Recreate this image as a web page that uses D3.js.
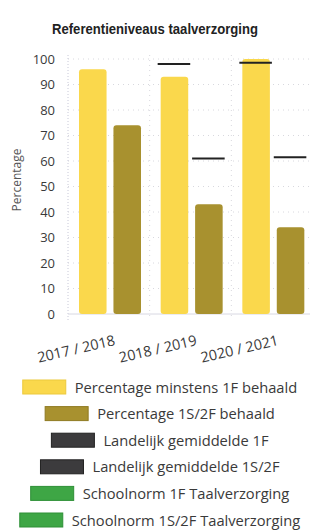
<!DOCTYPE html>
<html>
<head>
<meta charset="utf-8">
<script src="https://cdn.jsdelivr.net/npm/d3@7"></script>
<style>
  body { margin: 0; background: #fff; }
  text { font-family: "Open Sans", sans-serif; fill: #3a3a3a; }
</style>
</head>
<body>
<div id="chart"></div>
<script>
const width = 310;
const height = 530;

const years = ["2017 / 2018", "2018 / 2019", "2020 / 2021"];
const pct1F = [96, 93, 100];
const pct1S2F = [74, 43, 34];
const landelijk1F = [null, 98, 98.5];
const landelijk1S2F = [null, 61, 61.5];
const schoolnorm1F = [null, null, null];
const schoolnorm1S2F = [null, null, null];
const yTicks = [0, 10, 20, 30, 40, 50, 60, 70, 80, 90, 100];

const legendItems = [
    { label: "Percentage minstens 1F behaald", color: "#fad84c", stroke: "#ecc93d" },
    { label: "Percentage 1S/2F behaald", color: "#a8912f", stroke: "#8f7a22" },
    { label: "Landelijk gemiddelde 1F", color: "#3c3b3d", stroke: "#222" },
    { label: "Landelijk gemiddelde 1S/2F", color: "#3c3b3d", stroke: "#222" },
    { label: "Schoolnorm 1F Taalverzorging", color: "#3ea645", stroke: "#2e8f36" },
    { label: "Schoolnorm 1S/2F Taalverzorging", color: "#3ea645", stroke: "#2e8f36" }
];

const series = ["1F", "1S2F"];

const svg = d3.select("#chart")
    .append("svg")
    .attr("width", width)
    .attr("height", height);

const x = d3.scaleBand()
    .domain(years)
    .range([68, 313]);

const x1 = d3.scaleBand()
    .domain(series)
    .range([11, 73])
    .paddingInner(0.2);

const y = d3.scaleLinear()
    .domain([0, 100])
    .range([314, 59]);

// title
svg.append("text")
    .attr("x", 155)
    .attr("y", 34)
    .attr("text-anchor", "middle")
    .attr("font-size", "15.5px")
    .attr("font-weight", "bold")
    .attr("textLength", 206)
    .attr("lengthAdjust", "spacingAndGlyphs")
    .style("font-family", "'Liberation Sans', sans-serif")
    .style("fill", "#222")
    .text("Referentieniveaus taalverzorging");

// gridlines
svg.append("g")
    .selectAll("line")
    .data(yTicks.slice(1))
    .enter()
    .append("line")
    .attr("x1", 68)
    .attr("x2", 313)
    .attr("y1", d => y(d))
    .attr("y2", d => y(d))
    .style("stroke", "#d8d8de")
    .style("stroke-dasharray", "1,4");

svg.append("g")
    .selectAll("line")
    .data(years.slice(1))
    .enter()
    .append("line")
    .attr("x1", d => x(d))
    .attr("x2", d => x(d))
    .attr("y1", y(100) - 4)
    .attr("y2", y(0) + 6)
    .style("stroke", "#d8d8de")
    .style("stroke-dasharray", "1,4");

// y axis
const yAxis = svg.append("g")
    .attr("transform", "translate(68,0)")
    .call(d3.axisLeft(y).tickValues(yTicks).tickSize(0).tickPadding(13));
yAxis.select(".domain")
    .attr("d", `M0,${y(100) - 4}V${y(0) + 6}`)
    .style("stroke", "#c8c8d8")
    .style("stroke-dasharray", "1,2");
yAxis.selectAll("text")
    .attr("font-size", "13px")
    .style("font-family", "'Open Sans', sans-serif")
    .style("fill", "#3a3a3a");

// baseline
svg.append("line")
    .attr("x1", 68)
    .attr("x2", 313)
    .attr("y1", y(0))
    .attr("y2", y(0))
    .style("stroke", "#d8d8e2");

// y label
svg.append("text")
    .attr("transform", "translate(21,180) rotate(-90)")
    .attr("text-anchor", "middle")
    .attr("font-size", "12px")
    .style("fill", "#555")
    .text("Percentage");

// bars
const groups = svg.selectAll("g.year")
    .data(years)
    .enter()
    .append("g")
    .attr("class", "year")
    .attr("transform", d => `translate(${x(d)},0)`);

groups.append("rect")
    .attr("x", x1("1F"))
    .attr("y", (d, i) => y(pct1F[i]))
    .attr("width", x1.bandwidth())
    .attr("height", (d, i) => y(0) - y(pct1F[i]))
    .attr("rx", 3)
    .attr("fill", "#fad84c");

groups.append("rect")
    .attr("x", x1("1S2F"))
    .attr("y", (d, i) => y(pct1S2F[i]))
    .attr("width", x1.bandwidth())
    .attr("height", (d, i) => y(0) - y(pct1S2F[i]))
    .attr("rx", 3)
    .attr("fill", "#a8912f");

// reference lines (landelijk / schoolnorm)
function refLines(values, key, color) {
    groups.filter((d, i) => values[i] != null)
        .append("line")
        .attr("x1", x1(key) - 3)
        .attr("x2", x1(key) + x1.bandwidth() + 2)
        .attr("y1", d => y(values[years.indexOf(d)]))
        .attr("y2", d => y(values[years.indexOf(d)]))
        .style("stroke", color)
        .style("stroke-width", 2);
}
refLines(landelijk1F, "1F", "#222");
refLines(landelijk1S2F, "1S2F", "#222");
refLines(schoolnorm1F, "1F", "#3ea645");
refLines(schoolnorm1S2F, "1S2F", "#3ea645");

// x labels
svg.append("g")
    .selectAll("text")
    .data(years)
    .enter()
    .append("text")
    .attr("transform", d => `translate(${x(d) + x.bandwidth() / 2 + 7},${y(0) + 31}) rotate(-13)`)
    .attr("text-anchor", "end")
    .attr("font-size", "14.5px")
    .text(d => d);

// legend
const legend = svg.append("g");
legendItems.forEach((item, i) => {
    const row = legend.append("g")
        .attr("transform", `translate(0,${387 + i * 26.6})`);
    const label = row.append("text")
        .attr("y", 5.5)
        .attr("font-size", "14.7px")
        .text(item.label);
    const tw = label.node().getComputedTextLength();
    const total = 43 + 9 + tw;
    const start = 160 - total / 2;
    label.attr("x", start + 52);
    row.append("rect")
        .attr("x", start)
        .attr("y", -7)
        .attr("width", 43)
        .attr("height", 14)
        .attr("fill", item.color)
        .style("stroke", item.stroke)
        .style("stroke-width", 1);
});
</script>
</body>
</html>
